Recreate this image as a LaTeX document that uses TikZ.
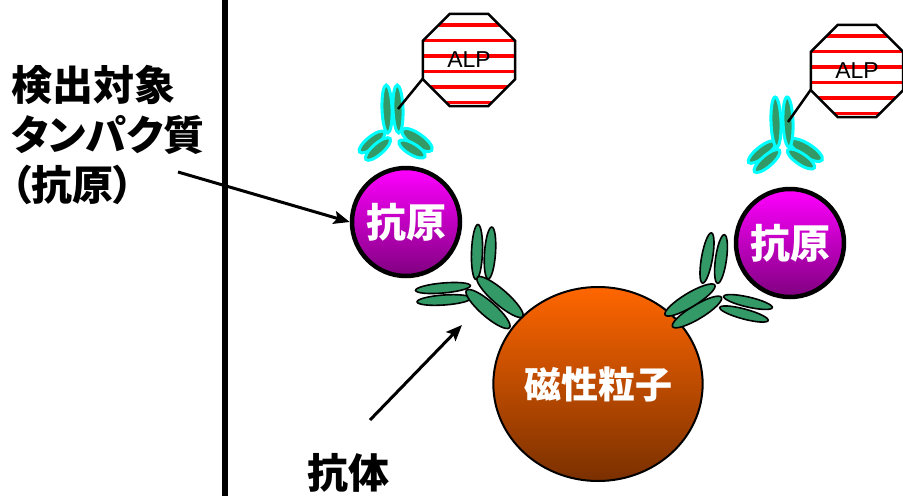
\documentclass[tikz,border=0pt]{standalone}
\usepackage{fontspec}
\setmainfont{Liberation Sans}
\newfontfamily\jp{Noto Sans CJK JP}[RawFeature=+palt]
\usetikzlibrary{shapes.geometric}
\usetikzlibrary{arrows.meta}
\definecolor{abgreen}{HTML}{339966}
\definecolor{abglow}{HTML}{00FFFF}
\definecolor{agtop}{HTML}{FF00FF}
\definecolor{agbot}{HTML}{800080}
\definecolor{mptop}{HTML}{FF6600}
\definecolor{mpbot}{HTML}{7A3000}
\definecolor{stripe}{HTML}{FF0000}
\tikzset{lbl/.style={font=\jp\bfseries\fontsize{41}{50}\selectfont, inner sep=0pt}}
\tikzset{ag/.style={circle, draw, line width=4.5pt, minimum size=108pt, inner sep=0pt,
    top color=agtop, bottom color=agbot, text=white, font=\jp\bfseries\fontsize{40}{40}\selectfont}}
\tikzset{ab/.style={ellipse, draw, line width=1.6pt, fill=abgreen, inner sep=0pt}}
\tikzset{abc/.style={ellipse, draw=abglow, line width=3pt, fill=abgreen, inner sep=0pt}}
\tikzset{alp/.style={regular polygon, regular polygon sides=8, draw, line width=2.5pt,
    minimum size=100pt, inner sep=0pt, outer sep=0pt, fill=white,
    font=\fontsize{23}{23}\selectfont, text=black,
    path picture={\foreach \k in {0,...,5}
      \draw[stripe, line width=3.6pt] ([yshift={35pt-15.5pt*\k}]path picture bounding box.west) -- ++(110pt,0);}}}
\tikzset{arr/.style={-{Stealth[length=16pt, width=13pt, inset=3pt]}, line width=3pt}}

\begin{document}
\begin{tikzpicture}[x=1pt, y=-1pt]
    \useasboundingbox (0,0) rectangle (903,496);

    % separator
    \draw[line width=5.5pt] (225,0) -- (225,496);

    \node[lbl, anchor=west, align=left] (target) at (11,135) {検出対象\\タンパク質\\（抗原）};
    \node[lbl] (ablbl) at (348,473) {抗体};

    % magnetic bead
    \node[ellipse, draw, line width=2pt, minimum width=206pt, minimum height=194pt, inner sep=0pt,
        top color=mptop, bottom color=mpbot, text=white,
        font=\jp\bfseries\fontsize{37}{37}\selectfont] (bead) at (598,384) {磁性粒子};

    % antigens
    \node[ag] (agL) at (406,222) {抗原};
    \node[ag] (agR) at (790,243) {抗原};

    % antibody on the bead, left
    \node[ab, minimum width=55pt, minimum height=11pt, rotate=88] (abL1) at (477,252) {};
    \node[ab, minimum width=52pt, minimum height=11pt, rotate=86] (abL2) at (490,253) {};
    \node[ab, minimum width=55pt, minimum height=10pt, rotate=5] (abL3) at (443,288) {};
    \node[ab, minimum width=54pt, minimum height=10pt, rotate=4] (abL4) at (444,300) {};
    \node[ab, minimum width=57pt, minimum height=15pt, rotate=-41] (abL6) at (488,309) {};
    \node[ab, minimum width=60pt, minimum height=15pt, rotate=-41] (abL5) at (500,297) {};

    % antibody on the bead, right
    \node[ab, minimum width=51pt, minimum height=11pt, rotate=80] (abR1) at (707,258) {};
    \node[ab, minimum width=49pt, minimum height=11pt, rotate=82] (abR2) at (721,259) {};
    \node[ab, minimum width=50pt, minimum height=10pt, rotate=-13] (abR5) at (748,302) {};
    \node[ab, minimum width=50pt, minimum height=10pt, rotate=-15] (abR6) at (744,314) {};
    \node[ab, minimum width=57pt, minimum height=14pt, rotate=31] (abR4) at (697,312) {};
    \node[ab, minimum width=58pt, minimum height=14pt, rotate=31] (abR3) at (690,300) {};

    % labelled antibody, left
    \node[abc, minimum width=32pt, minimum height=11pt, rotate=39] (abTL3) at (372,142) {};
    \node[abc, minimum width=32pt, minimum height=11pt, rotate=41] (abTL4) at (378,149) {};
    \node[abc, minimum width=36pt, minimum height=13pt, rotate=-35] (abTL5) at (417,140) {};
    \node[abc, minimum width=30pt, minimum height=11pt, rotate=-31] (abTL6) at (412,149) {};
    \node[abc, minimum width=48pt, minimum height=10pt, rotate=92] (abTL1) at (387,109) {};
    \node[abc, minimum width=48pt, minimum height=10pt, rotate=92] (abTL2) at (398,109) {};

    % labelled antibody, right
    \node[abc, minimum width=34pt, minimum height=11pt, rotate=38] (abTR3) at (762,152) {};
    \node[abc, minimum width=33pt, minimum height=11pt, rotate=41] (abTR4) at (767,161) {};
    \node[abc, minimum width=38pt, minimum height=13pt, rotate=-32] (abTR5) at (806,150) {};
    \node[abc, minimum width=32pt, minimum height=11pt, rotate=-34] (abTR6) at (801,159) {};
    \node[abc, minimum width=50pt, minimum height=10pt, rotate=92] (abTR1) at (776,122) {};
    \node[abc, minimum width=50pt, minimum height=10pt, rotate=92] (abTR2) at (788,122) {};

    % enzyme labels
    \node[alp] (alpL) at (469,60) {ALP};
    \node[alp] (alpR) at (857,71) {ALP};

    \draw[line width=2.5pt] (abTL2.center) -- (alpL.202.5);
    \draw[line width=2.5pt] (abTR2.center) -- (alpR.202.5);

    % pointers
    \coordinate (tgtTail) at (178,172);
    \coordinate (abTail) at (370,420);
    \coordinate (abTip) at (462,325);
    \draw[arr] (tgtTail) -- (agL.west);
    \draw[arr] (abTail) -- (abTip);
\end{tikzpicture}
\end{document}
